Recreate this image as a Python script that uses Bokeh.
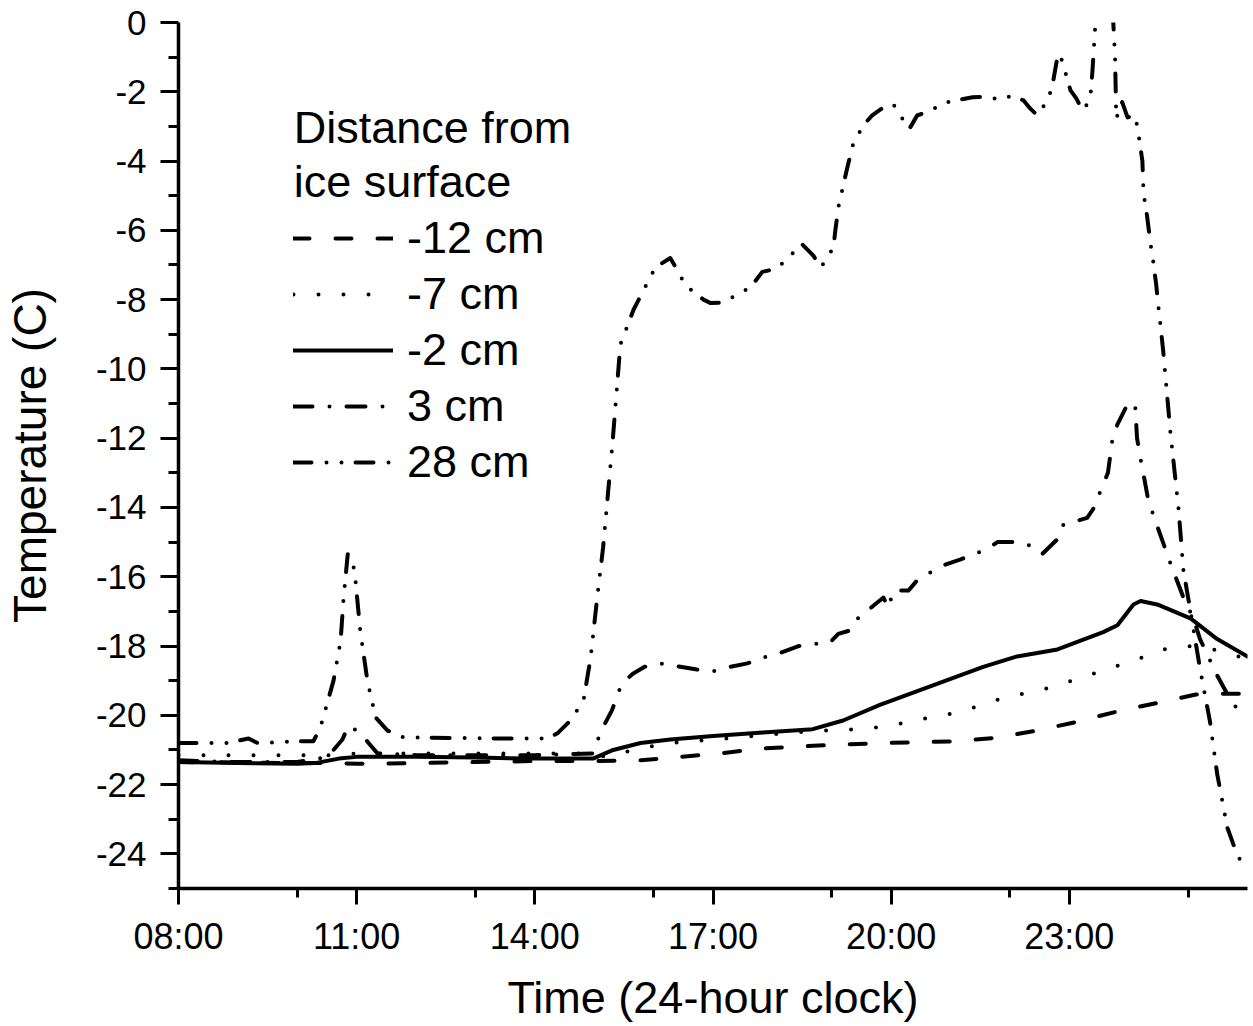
from bokeh.plotting import figure
from bokeh.models import Range1d, FixedTicker, Legend, LegendItem, Label
from bokeh.embed import file_html
from bokeh.resources import INLINE

FONT = "Liberation Sans"

# ---- data (time in hours since midnight, temperature in C) ----
t_m12 = [8.0, 9.0, 10.0, 10.5, 11.0, 12.0, 13.0, 14.0, 15.0, 15.78, 16.45, 17.12, 17.8, 18.47,
         19.2, 19.87, 20.44, 21.08, 21.76, 22.43, 23.1, 23.78, 24.46, 25.13, 25.47, 26.0]
v_m12 = [-21.35, -21.36, -21.38, -21.38, -21.4, -21.38, -21.35, -21.32, -21.32, -21.3, -21.2, -21.1,
         -20.96, -20.9, -20.84, -20.8, -20.78, -20.75, -20.65, -20.45, -20.2, -19.9, -19.65, -19.4,
         -19.38, -19.38]

t_m7 = [8.0, 9.0, 10.0, 10.6, 11.0, 12.0, 13.0, 14.0, 14.9, 15.2, 15.78, 16.28, 17.0, 18.0, 18.75,
        19.5, 20.0, 20.4, 21.17, 21.89, 22.68, 23.4, 24.2, 24.58, 24.99, 25.42, 25.85, 26.0]
v_m7 = [-21.15, -21.15, -21.15, -21.15, -21.1, -21.1, -21.1, -21.1, -21.1, -21.2, -20.95, -20.8,
        -20.7, -20.55, -20.45, -20.4, -20.3, -20.15, -19.9, -19.5, -19.2, -18.8, -18.35, -18.1,
        -18.0, -18.1, -18.3, -18.35]

t_m2 = [8.0, 9.0, 10.0, 10.3, 10.7, 11.0, 12.0, 13.0, 14.0, 14.98, 15.32, 15.78, 16.28, 17.0, 17.84,
        18.68, 19.19, 19.81, 20.44, 21.55, 22.12, 22.8, 23.57, 23.81, 24.08, 24.2, 24.48, 25.04,
        25.49, 26.0]
v_m2 = [-21.35, -21.38, -21.4, -21.38, -21.25, -21.2, -21.2, -21.22, -21.25, -21.25, -21.0, -20.8,
        -20.7, -20.6, -20.5, -20.4, -20.15, -19.7, -19.3, -18.6, -18.3, -18.1, -17.6, -17.4, -16.8,
        -16.7, -16.8, -17.2, -17.8, -18.3]

t_p3 = [8.0, 9.0, 10.0, 10.51, 10.76, 10.86, 11.06, 11.2, 11.35, 12.0, 13.0, 14.0, 14.99, 15.1,
        15.3, 15.46, 15.65, 15.85, 16.1, 16.45, 16.73, 17.0, 17.29, 17.58, 17.91, 18.13, 18.44,
        18.76, 18.97, 19.11, 19.31, 19.37, 19.87, 19.95, 20.04, 20.29, 20.44, 20.83, 21.17, 21.62,
        21.79, 22.14, 22.34, 22.54, 22.81, 22.9, 23.3, 23.4, 23.65, 23.72, 23.81, 24.0, 24.11,
        24.14, 24.2, 24.32, 24.42, 24.7, 24.92, 25.09, 25.2, 25.49, 25.76, 26.0]
v_p3 = [-21.3, -21.35, -21.35, -21.2, -20.7, -20.3, -20.5, -20.8, -21.1, -21.15, -21.15, -21.15,
        -21.1, -20.5, -19.85, -19.1, -18.8, -18.6, -18.5, -18.6, -18.68, -18.73, -18.6, -18.5,
        -18.3, -18.2, -18.0, -17.93, -17.9, -17.65, -17.55, -17.3, -16.6, -16.9, -16.4, -16.4,
        -16.1, -15.7, -15.5, -15.2, -15.0, -15.0, -15.1, -15.35, -14.9, -14.5, -14.3, -14.05,
        -13.0, -12.1, -11.6, -10.95, -11.1, -12.0, -12.6, -13.7, -14.25, -15.6, -16.6, -17.2,
        -17.8, -18.85, -19.7, -20.0]

t_p28 = [8.0, 8.82, 9.18, 9.33, 10.0, 10.27, 10.39, 10.61, 10.73, 10.78,
         10.85, 10.93, 10.98, 11.06, 11.18, 11.32, 11.52, 11.79, 13.47, 14.21,
         14.38, 14.6, 14.82, 14.94, 15.05, 15.15, 15.31, 15.44, 15.66, 15.9,
         16.03, 16.28, 16.4, 16.54, 16.84, 16.96, 17.18, 17.41, 17.63, 17.83,
         18.08, 18.3, 18.5, 18.69, 18.81, 18.93, 19.03, 19.06, 19.11, 19.2,
         19.26, 19.36, 19.53, 19.68, 19.94, 20.04, 20.15, 20.31, 20.44, 20.66,
         20.86, 21.08, 21.37, 21.67, 21.79, 21.94, 22.09, 22.23, 22.34, 22.46,
         22.65, 22.73, 22.81, 22.88, 22.97, 23.02, 23.12, 23.22, 23.35, 23.39,
         23.44, 23.5, 23.67, 23.74, 23.77, 23.79, 23.89, 23.98, 24.11, 24.16,
         24.23, 24.25, 24.31, 24.36, 24.41, 24.46, 24.5, 24.58, 24.7, 24.84,
         24.92, 25.04, 25.2, 25.37, 25.49, 25.66, 25.83, 26.0]
v_p28 = [-20.8, -20.8, -20.67, -20.8, -20.75, -20.75, -20.35, -19.0, -17.85, -16.6,
         -15.35, -15.5, -16.1, -17.55, -19.0, -20.06, -20.44, -20.64, -20.67, -20.67,
         -20.52, -20.15, -19.57, -18.33, -16.6, -15.15, -12.1, -9.3, -8.3, -7.5,
         -7.07, -6.8, -7.15, -7.6, -8.0, -8.1, -8.08, -7.85, -7.65, -7.2,
         -7.1, -6.73, -6.4, -6.73, -7.07, -6.8, -6.47, -6.0, -5.34, -4.65,
         -4.2, -3.5, -2.97, -2.68, -2.37, -2.37, -2.68, -3.06, -2.68, -2.56,
         -2.33, -2.25, -2.16, -2.14, -2.23, -2.14, -2.14, -2.25, -2.48, -2.68,
         -2.2, -1.67, -0.9, -1.1, -1.67, -1.96, -2.2, -2.54, -2.25, -1.38,
         0.0, 1.0, 1.0, 0.0, -1.0, -2.77, -2.3, -2.74, -2.68, -3.17,
         -4.0, -4.94, -5.6, -6.3, -6.87, -7.53, -8.2, -9.47, -11.8, -14.06,
         -15.8, -17.0, -18.65, -20.2, -21.7, -23.24, -24.05, -24.5]

series_labels = ["-12 cm", "-7 cm", "-2 cm", "3 cm", "28 cm"]
legend_title = ["Distance from", "ice surface"]

x_ticks = [8, 11, 14, 17, 20, 23]
x_tick_labels = ["08:00", "11:00", "14:00", "17:00", "20:00", "23:00"]
x_minor = [10, 13, 16, 19, 22, 25]
y_ticks = [0, -2, -4, -6, -8, -10, -12, -14, -16, -18, -20, -22, -24]
y_minor = [-1, -3, -5, -7, -9, -11, -13, -15, -17, -19, -21, -23, -25]

# ---- figure ----
p = figure(width=1253, height=1026, x_range=Range1d(8, 26), y_range=Range1d(-25, 0),
           output_backend="svg", toolbar_location=None,
           min_border_left=178, min_border_right=6, min_border_top=22, min_border_bottom=138)
p.outline_line_color = None
p.grid.visible = False
p.background_fill_color = "white"

styles = [
    dict(line_dash="16 26"),
    dict(line_dash="0 25"),
    dict(line_dash="solid"),
    dict(line_dash="19 17 0 17"),
    dict(line_dash="18 15 0 15 0 14"),
]
data = [(t_m12, v_m12), (t_m7, v_m7), (t_m2, v_m2), (t_p3, v_p3), (t_p28, v_p28)]
renderers = []
for (t, v), st in zip(data, styles):
    r = p.line(t, v, line_color="black", line_width=4, line_cap="round", line_join="round", **st)
    renderers.append(r)

for ax in (p.xaxis[0], p.yaxis[0]):
    ax.axis_line_width = 3.5
    ax.axis_line_color = "black"
    ax.major_tick_line_width = 3
    ax.minor_tick_line_width = 3
    ax.major_tick_line_color = "black"
    ax.minor_tick_line_color = "black"
    ax.major_tick_in = 0
    ax.minor_tick_in = 0
    ax.major_label_text_font = FONT
    ax.major_label_text_color = "black"
    ax.axis_label_text_font = FONT
    ax.axis_label_text_font_style = "normal"
    ax.axis_label_text_color = "black"

xa = p.xaxis[0]
xa.ticker = FixedTicker(ticks=x_ticks, minor_ticks=x_minor)
xa.major_label_overrides = {k: s for k, s in zip(x_ticks, x_tick_labels)}
xa.major_tick_out = 16
xa.minor_tick_out = 9
xa.major_label_text_font_size = "36px"
xa.major_label_standoff = 11
xa.axis_label = "Time (24-hour clock)"
xa.axis_label_text_font_size = "45px"
xa.axis_label_standoff = 12

ya = p.yaxis[0]
ya.ticker = FixedTicker(ticks=y_ticks, minor_ticks=y_minor)
ya.major_label_overrides = {k: str(k) for k in y_ticks}
ya.major_tick_out = 18
ya.minor_tick_out = 10
ya.major_label_text_font_size = "35px"
ya.major_label_standoff = 14
ya.axis_label = "Temperature (C)"
ya.axis_label_text_font_size = "46px"
ya.axis_label_standoff = 37

legend = Legend(items=[LegendItem(label=lab, renderers=[r]) for lab, r in zip(series_labels, renderers)],
                location=(115, 400), glyph_width=100, glyph_height=40, label_height=40,
                label_standoff=14, spacing=4, padding=0, margin=0,
                border_line_alpha=0, background_fill_alpha=0,
                label_text_font=FONT, label_text_font_size="45px", label_text_color="black")
p.add_layout(legend)

for i, line in enumerate(legend_title):
    p.add_layout(Label(x=9.94, y=-3.03 - 1.56 * i, text=line, text_font=FONT,
                       text_font_size="45px", text_baseline="middle", text_align="left",
                       text_color="black"))

open("out.html", "w").write(file_html(p, INLINE))
